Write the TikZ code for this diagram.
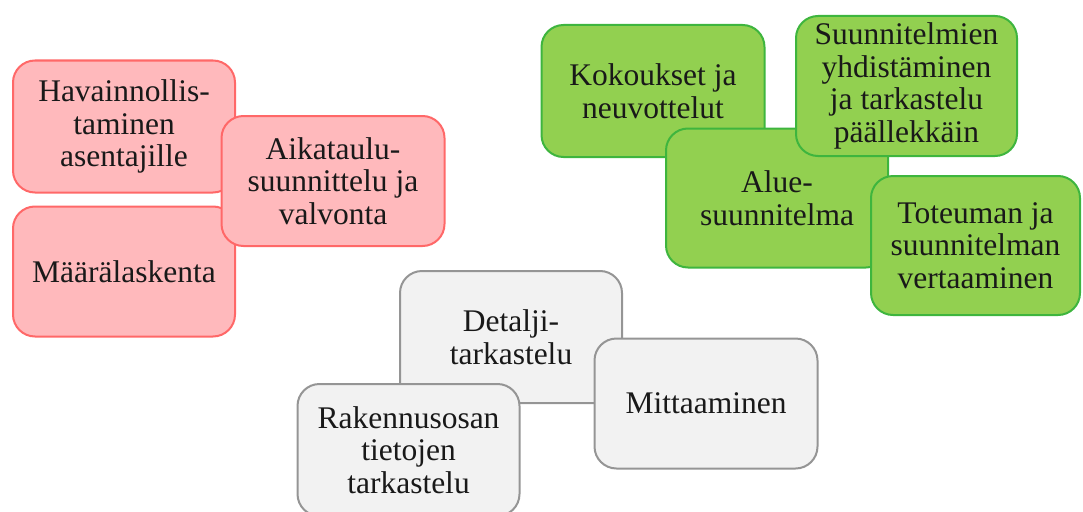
\documentclass[tikz,border=0pt]{standalone}
\usepackage{fontspec}
\setmainfont{Liberation Serif}
\usetikzlibrary{positioning}
\definecolor{pinkfill}{HTML}{FFB9BC}
\definecolor{pinkline}{HTML}{FF6868}
\definecolor{greenfill}{HTML}{92D050}
\definecolor{greenline}{HTML}{3EB53E}
\definecolor{greyfill}{HTML}{F2F2F2}
\definecolor{greyline}{HTML}{959595}

\begin{document}
\begin{tikzpicture}[
  x=1pt, y=-1pt,
  box/.style={
    rectangle,
    rounded corners=22pt,
    line width=2pt,
    minimum width=222pt,
    minimum height=132pt,
    inner sep=3pt,
    align=center,
    text=black!90,
    font=\fontsize{31.5}{32.5}\selectfont
  },
  pinkbox/.style={
    box,
    fill=pinkfill,
    draw=pinkline
  },
  greenbox/.style={
    box,
    fill=greenfill,
    draw=greenline
  },
  greybox/.style={
    box,
    fill=greyfill,
    draw=greyline
  }
]
\useasboundingbox (0,0) rectangle (1083,511);
\clip (0,0) rectangle (1083,511);

% Group 1: pink
\node[pinkbox] (havain) at (124,126.5) {Havainnollis-\\taminen\\asentajille};
\node[pinkbox, below=12pt of havain, minimum height=130pt] (maara) {Määrälaskenta};
\node[pinkbox, minimum width=223pt, minimum height=130pt] (aikataulu) at (333,181) {Aikataulu-\\suunnittelu ja\\valvonta};

% Group 2: green
\node[greenbox, minimum width=223pt] (kokous) at (653,91) {Kokoukset ja\\neuvottelut};
\node[greenbox, minimum height=139pt] (alue) at (777,198) {Alue-\\suunnitelma};
\node[greenbox, minimum width=221pt, minimum height=140pt] (yhdistys) at (906.5,86) {Suunnitelmien\\yhdistäminen\\ja tarkastelu\\päällekkäin};
\node[greenbox, minimum width=209pt, minimum height=139pt] (toteuma) at (975.5,245.5) {Toteuman ja\\suunnitelman\\vertaaminen};

% Group 3: grey
\node[greybox] (detalji) at (511,337) {Detalji-\\tarkastelu};
\node[greybox, minimum width=223pt, minimum height=130pt] (mittaus) at (706,403.5) {Mittaaminen};
\node[greybox] (rakennusosa) at (408.5,450) {Rakennusosan\\tietojen\\tarkastelu};

\end{tikzpicture}
\end{document}
